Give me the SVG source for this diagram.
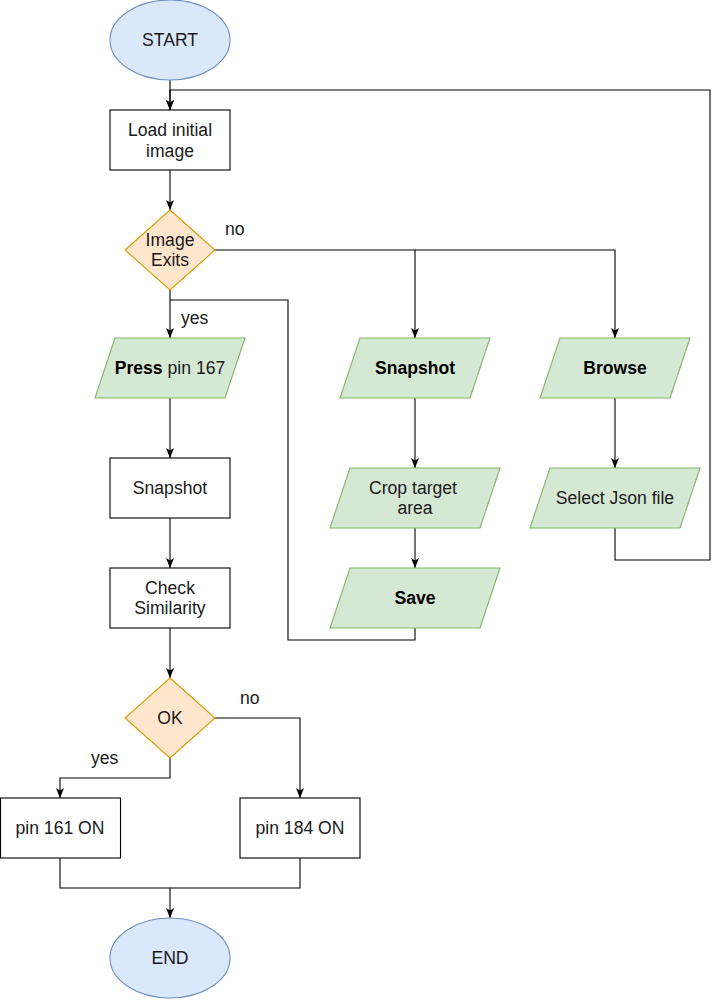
<svg xmlns="http://www.w3.org/2000/svg" width="720" height="1000" viewBox="0 0 720 1000">
<style>
text{font-family:"Liberation Sans",Arial,sans-serif;font-size:17.6px;fill:#1a1a1a;text-anchor:middle}
.b{font-weight:bold;fill:#000}
.lbl{text-anchor:start}
.term{fill:#dae8fc;stroke:#6c8ebf;stroke-width:1.1}
.proc{fill:#fff;stroke:#000;stroke-width:1.1}
.dec{fill:#ffe6cc;stroke:#d79b00;stroke-width:1.1}
.io{fill:#d5e8d4;stroke:#82b366;stroke-width:1.1}
.c{fill:none;stroke:#000;stroke-width:1.1}
.a{marker-end:url(#arr)}
</style>
<defs>
<marker id="arr" viewBox="0 0 10 8" refX="10" refY="4" markerWidth="10" markerHeight="8" markerUnits="userSpaceOnUse" orient="auto">
<path d="M0,0 L10,4 L0,8 L2.5,4 Z" fill="#000"/>
</marker>
</defs>
<rect width="720" height="1000" fill="#fff"/>
<g id="connectors">
<path class="c a" d="M170,80 V110"/>
<path class="c a" d="M170,170 V210"/>
<path class="c a" d="M170,290 V338"/>
<path class="c a" d="M215,250 H415 V338"/>
<path class="c a" d="M415,250 H615 V338"/>
<path class="c a" d="M415,398 V468"/>
<path class="c a" d="M415,528 V568"/>
<path class="c" d="M415,628 V640 H288 V300 H170"/>
<path class="c a" d="M615,398 V468"/>
<path class="c a" d="M615,528 V560 H710 V90 H170 V110"/>
<path class="c a" d="M170,398 V458"/>
<path class="c a" d="M170,518 V568"/>
<path class="c a" d="M170,628 V678"/>
<path class="c a" d="M170,758 V778 H60 V798"/>
<path class="c a" d="M215,718 H300 V798"/>
<path class="c a" d="M60,858 V888 H170 V918"/>
<path class="c" d="M300,858 V888 H170"/>
<text class="lbl" x="225" y="235">no</text>
<text class="lbl" x="181" y="323.5">yes</text>
<text class="lbl" x="240" y="703.5">no</text>
<text class="lbl" x="91" y="763.5">yes</text>
</g>
<g id="start">
<ellipse class="term" cx="170" cy="40" rx="60" ry="40"/>
<text x="170" y="46">START</text>
</g>
<g id="load">
<rect class="proc" x="110" y="110" width="120" height="60"/>
<text x="170" y="136">Load initial</text>
<text x="170" y="157">image</text>
</g>
<g id="exists">
<path class="dec" d="M170,210 L215,250 L170,290 L125,250 Z"/>
<text x="170" y="246">Image</text>
<text x="170" y="266">Exits</text>
</g>
<g id="press">
<path class="io" d="M115,338 H245 L225,398 H95 Z"/>
<text x="170" y="373.5"><tspan class="b">Press</tspan> pin 167</text>
</g>
<g id="snapshot2">
<path class="io" d="M360,338 H490 L470,398 H340 Z"/>
<text class="b" x="415" y="373.5">Snapshot</text>
</g>
<g id="browse">
<path class="io" d="M560,338 H690 L670,398 H540 Z"/>
<text class="b" x="615" y="373.5">Browse</text>
</g>
<g id="crop">
<path class="io" d="M350,468 H500 L480,528 H330 Z"/>
<text x="413" y="493.5">Crop target</text>
<text x="415" y="514">area</text>
</g>
<g id="select">
<path class="io" d="M550,468 H700 L680,528 H530 Z"/>
<text x="615" y="503.5">Select Json file</text>
</g>
<g id="save">
<path class="io" d="M350,568 H500 L480,628 H330 Z"/>
<text class="b" x="415" y="603.5">Save</text>
</g>
<g id="snapshot1">
<rect class="proc" x="110" y="458" width="120" height="60"/>
<text x="170" y="493.5">Snapshot</text>
</g>
<g id="check">
<rect class="proc" x="110" y="568" width="120" height="60"/>
<text x="170" y="593.5">Check</text>
<text x="170" y="614">Similarity</text>
</g>
<g id="ok">
<path class="dec" d="M170,678 L215,718 L170,758 L125,718 Z"/>
<text x="170" y="723.5">OK</text>
</g>
<g id="pin161">
<rect class="proc" x="0.5" y="798" width="120" height="60"/>
<text x="60" y="833.5">pin 161 ON</text>
</g>
<g id="pin184">
<rect class="proc" x="240" y="798" width="120" height="60"/>
<text x="300" y="833.5">pin 184 ON</text>
</g>
<g id="end">
<ellipse class="term" cx="170" cy="958" rx="60" ry="40"/>
<text x="170" y="963.5">END</text>
</g>
</svg>
